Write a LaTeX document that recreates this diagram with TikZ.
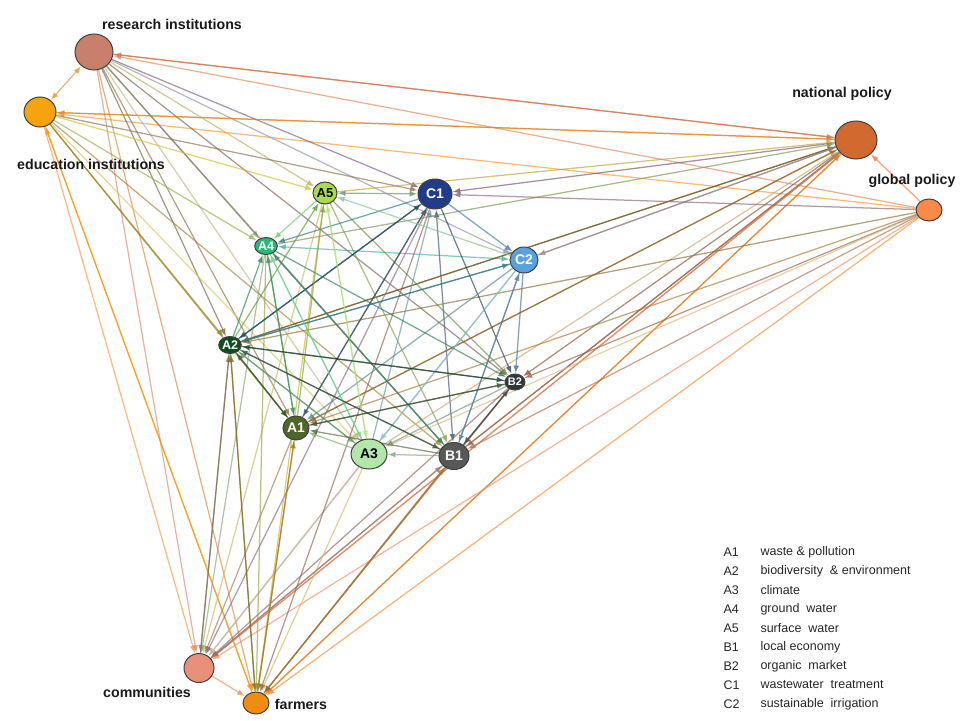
\documentclass[tikz,border=0pt]{standalone}
\usepackage{fontspec}
\setmainfont{Liberation Sans}
\usetikzlibrary{arrows.meta,shapes.geometric}
\pgfdeclarelayer{bg}
\pgfsetlayers{bg,main}
\definecolor{cR}{HTML}{C8806A}
\definecolor{cE}{HTML}{F5A30F}
\definecolor{cN}{HTML}{D2692F}
\definecolor{cG}{HTML}{F98A4A}
\definecolor{cCo}{HTML}{E8907C}
\definecolor{cF}{HTML}{F28C10}
\definecolor{cA5}{HTML}{A8DC4C}
\definecolor{cC1}{HTML}{223C8C}
\definecolor{cA4}{HTML}{2AB878}
\definecolor{cC2}{HTML}{5AA2DC}
\definecolor{cA2}{HTML}{0F4D1F}
\definecolor{cB2}{HTML}{2C3838}
\definecolor{cA1}{HTML}{4E6628}
\definecolor{cA3}{HTML}{B4E6AC}
\definecolor{cB1}{HTML}{585858}
\begin{document}
\begin{tikzpicture}[x=1pt,y=-1pt,
  nd/.style={ellipse, draw=black!75, line width=1pt, inner sep=0pt, text=white,
    font=\bfseries\fontsize{14}{14}\selectfont},
  lbl/.style={font=\bfseries\fontsize{14.2}{14}\selectfont, text=black!90},
  leg/.style={anchor=west, font=\fontsize{12.5}{12}\selectfont, text=black!85},
  ed/.style={line width=1.25pt, opacity=.65, -{Latex[length=8pt,width=6pt]}},
  bd/.style={line width=1.25pt, opacity=.65, {Latex[length=8pt,width=6pt]}-{Latex[length=8pt,width=6pt]}}]
\useasboundingbox (0,0) rectangle (960,720);

% stakeholder nodes
\node[nd, fill=cR,  minimum width=38pt, minimum height=36pt] (R)  at (94,52) {};
\node[nd, fill=cE,  minimum width=32pt, minimum height=30pt] (E)  at (40,112) {};
\node[nd, fill=cN,  minimum width=42pt, minimum height=38pt] (N)  at (856,140) {};
\node[nd, fill=cG,  minimum width=26pt, minimum height=22pt] (G)  at (929,210) {};
\node[nd, fill=cCo, minimum width=30pt, minimum height=29pt] (Co) at (199,668) {};
\node[nd, fill=cF,  minimum width=26pt, minimum height=22pt] (F)  at (256,703) {};
% issue nodes
\node[nd, fill=cA5, minimum width=24pt, minimum height=22pt, text=black, font=\bfseries\fontsize{13}{13}\selectfont] (A5) at (325,193) {A5};
\node[nd, fill=cC1, minimum width=34pt, minimum height=30pt] (C1) at (435,194) {C1};
\node[nd, fill=cA4, minimum width=20pt, minimum height=17pt, font=\bfseries\fontsize{12.5}{12}\selectfont] (A4) at (266,246) {A4};
\node[nd, fill=cC2, minimum width=28pt, minimum height=26pt] (C2) at (524,260) {C2};
\node[nd, fill=cA2, minimum width=20pt, minimum height=17pt, font=\bfseries\fontsize{12.5}{12}\selectfont] (A2) at (230,345) {A2};
\node[nd, fill=cB2, minimum width=16pt, minimum height=16pt, font=\bfseries\fontsize{11}{11}\selectfont] (B2) at (515,382) {B2};
\node[nd, fill=cA1, minimum width=26pt, minimum height=24pt] (A1) at (296,428) {A1};
\node[nd, fill=cA3, minimum width=36pt, minimum height=30pt, text=black] (A3) at (369,454) {A3};
\node[nd, fill=cB1, minimum width=30pt, minimum height=27pt] (B1) at (454,456) {B1};

\begin{pgfonlayer}{bg}
\draw[bd, draw=cR!50!cE] (R) -- (E);
\draw[bd, draw=cA5!50!cC1] (A5) -- (C1);
\draw[bd, draw=cA4!50!cC2] (A4) -- (C2);
\draw[bd, draw=cC1!50!cB1] (C1) -- (B1);
\foreach \s/\t in {N/R, G/R, N/E, G/E, G/N, Co/F, E/Co, F/E, R/Co, R/F, E/F,
  R/C1, R/A5, R/A4, R/A2, R/A1, R/A3, R/B1, R/B2, R/C2,
  E/A5, E/A4, E/A2, E/A1, E/A3, E/B1, E/C1, E/N, R/N,
  N/C1, N/C2, N/B2, N/A2, N/B1, N/F, N/Co, N/A1,
  A5/N, A4/N, A2/N, A1/N, A3/N, B1/N, Co/N, F/N, C2/N,
  G/A2, G/B2, G/B1, G/A3, G/F, G/Co, G/A1, G/C1,
  A2/Co, A4/Co, A5/Co, A1/Co, C1/Co, B1/Co, B2/Co, C2/Co, A3/Co,
  A2/F, A4/F, A5/F, A1/F, A3/F, B1/F, C1/F, B2/F,
  F/A1, F/B1, Co/B1, Co/A2, F/A2,
  A5/A4, A5/A3, A5/B1, A5/B2,
  C1/C2, C1/B2, C1/A4, C1/A2, C1/A1,
  A1/C1, A3/C1,
  C2/A5, C2/A2, C2/B2, C2/B1, C2/A3, C2/A1,
  A4/A1, A4/A3, A4/B1, A4/B2,
  A2/A5, A2/A4, A2/A1, A2/A3, A2/B1, A2/B2, A2/C2, A2/C1,
  A1/A5, A1/A4, A1/A2, A1/B2,
  A3/A5, A3/A4, A3/A2, A3/A1,
  B1/A3, B1/A1, B1/A2, B1/A4, B1/B2, B1/C2,
  B2/A2, B2/A1, B2/A3, B2/B1}
  \draw[ed, draw=c\s!50!c\t] (\s) -- (\t);
\end{pgfonlayer}

% labels
\node[lbl] (lR)  at (172,24)  {research institutions};
\node[lbl] (lE)  at (91,164)  {education institutions};
\node[lbl] (lN)  at (842,94)  {national policy};
\node[lbl] (lG)  at (912,181) {global policy};
\node[lbl] (lCo) at (147,692) {communities};
\node[lbl] (lF)  at (301,704) {farmers};

% legend
\foreach \c/\d [count=\i from 0] in {A1/waste \& pollution, A2/biodiversity\ \ \& environment,
  A3/climate, A4/ground\ \ water, A5/surface\ \ water, B1/local economy,
  B2/organic\ \ market, C1/wastewater\ \ treatment, C2/sustainable\ \ irrigation}{
  \node[leg] (k\i) at (720,552+19*\i) {\c};
  \node[leg] (d\i) at (757,552+19*\i) {\d};
}
\end{tikzpicture}
\end{document}
